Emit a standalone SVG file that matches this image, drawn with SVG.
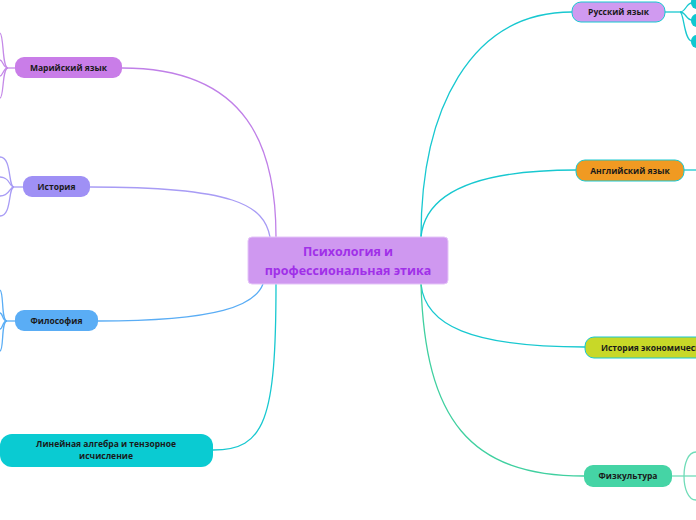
<svg xmlns="http://www.w3.org/2000/svg" width="696" height="520" viewBox="0 0 696 520">
<style>
.t{font-family:"Open Sans","Noto Sans","Liberation Sans",sans-serif;font-weight:bold;font-size:8.5px;fill:#1a1a1a;text-anchor:middle}
.c{fill:none;stroke-width:1.3}
.main{font-family:"Open Sans","Noto Sans","Liberation Sans",sans-serif;font-weight:bold;font-size:12.5px;fill:#a030e8;text-anchor:middle}
</style>
<rect width="696" height="520" fill="#ffffff"/>
<g id="connectors">
<path class="c" stroke="#c080e8" d="M122,68 C250,68 276,150 276,237"/>
<path class="c" stroke="#a89cf5" d="M90,187 C235,187 264,205 270,237"/>
<path class="c" stroke="#5aadf5" d="M98,321 C220,321 255,305 263,284"/>
<path class="c" stroke="#18c8d0" d="M213,450 C265,450 276,420 276,284"/>
<path class="c" stroke="#18c8d0" d="M421,237 C421,110 470,12 572,12"/>
<path class="c" stroke="#18c8d0" d="M421,237 C425,195 470,170 576,170"/>
<path class="c" stroke="#18c8d0" d="M421,284 C425,325 470,347 585,347"/>
<path class="c" stroke="#40d0a0" d="M421,284 C425,420 470,476 584,476"/>
<!-- sub branches left -->
<g class="c" stroke="#c58ae8" stroke-width="1">
<path d="M15,68 L8,68"/>
<path d="M8,68 C2,68 4,35 0,33"/>
<path d="M8,68 C3,68 3,60 0,60"/>
<path d="M8,68 C3,68 3,76 0,76"/>
<path d="M8,68 C2,68 4,98 0,98"/>
</g>
<g class="c" stroke="#a89cf5" stroke-width="1">
<path d="M23,187 L14,187"/>
<path d="M14,187 C8,187 12,157 0,157"/>
<path d="M14,187 C9,187 10,177 0,177"/>
<path d="M14,187 C9,187 10,196 0,196"/>
<path d="M14,187 C8,187 12,216 0,216"/>
</g>
<g class="c" stroke="#5aadf5" stroke-width="1">
<path d="M15,321 L7,321"/>
<path d="M7,321 C1,321 4,292 0,290"/>
<path d="M7,321 C2,321 3,313 0,313"/>
<path d="M7,321 C2,321 3,329 0,329"/>
<path d="M7,321 C1,321 4,350 0,351"/>
</g>
<!-- sub branches right -->
<g class="c" stroke="#18c8d0" stroke-width="1.1">
<path d="M665,12 L680,12"/>
<path d="M680,12 C686,12 686,3 692,3"/>
<path d="M680,12 C686,12 686,20 692,20"/>
<path d="M680,12 C684,12 684,41 692,41"/>
<path d="M684,170 L696,170"/>
</g>
<g class="c" stroke="#70dcb8" stroke-width="1.1">
<path d="M672,476 L696,476"/>
<path d="M696,452 C680,452 680,500 696,500"/>
</g>
</g>
<g id="n-center">
<rect x="248" y="237" width="200" height="47" rx="4" fill="#cf98f0" stroke="#e4c4f8" stroke-width="1"/>
<text class="main" x="348" y="256">Психология и</text>
<text class="main" x="348" y="275">профессиональная этика</text>
</g>
<g id="n-mari">
<rect x="15" y="57" width="107" height="21" rx="9" fill="#c97de8"/>
<text class="t" x="68.5" y="71">Марийский язык</text>
</g>
<g id="n-history">
<rect x="23" y="176" width="67" height="21" rx="9" fill="#9f90f5"/>
<text class="t" x="56.5" y="190">История</text>
</g>
<g id="n-philosophy">
<rect x="15" y="310" width="83" height="21" rx="9" fill="#5aadf5"/>
<text class="t" x="56.5" y="324">Философия</text>
</g>
<g id="n-linalg">
<rect x="0" y="434" width="213" height="33" rx="12" fill="#0acbd2"/>
<text class="t" x="106" y="447">Линейная алгебра и тензорное</text>
<text class="t" x="106" y="459">исчисление</text>
</g>
<g id="n-russian">
<rect x="572" y="2" width="93" height="20" rx="9" fill="#d09af0" stroke="#18c8d0" stroke-width="1"/>
<text class="t" x="618.5" y="15">Русский язык</text>
</g>
<g id="n-russian-children" fill="#10c8d0">
<rect x="691" y="-4" width="20" height="13" rx="6"/>
<rect x="691" y="14" width="20" height="13" rx="6"/>
<rect x="691" y="35" width="20" height="13" rx="6"/>
</g>
<g id="n-english">
<rect x="576" y="160" width="108" height="21" rx="9" fill="#f09a22" stroke="#18c8d0" stroke-width="1"/>
<text class="t" x="630" y="173.5">Английский язык</text>
</g>
<g id="n-econ">
<rect x="585" y="337" width="130" height="21" rx="9" fill="#c8d828" stroke="#18c8d0" stroke-width="1"/>
<text class="t" x="601" y="350.5" style="text-anchor:start">История экономических</text>
</g>
<g id="n-sport">
<rect x="584" y="465" width="88" height="22" rx="9" fill="#45d4a5"/>
<text class="t" x="628" y="479">Физкультура</text>
</g>
</svg>
